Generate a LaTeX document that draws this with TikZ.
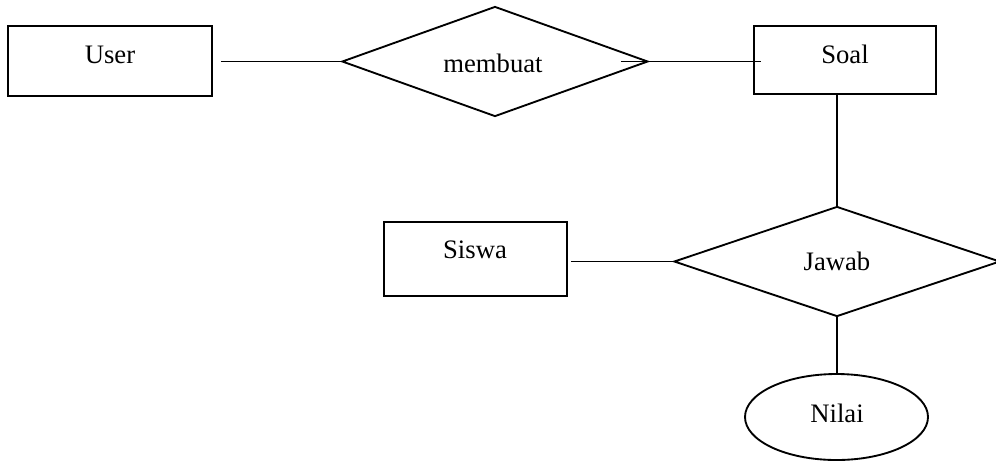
\documentclass[tikz,border=0pt]{standalone}
\usepackage{fontspec}
\setmainfont{Liberation Serif}
\usetikzlibrary{shapes.geometric}
\begin{document}
\begin{tikzpicture}[x=0.75pt,y=-0.75pt,
  every path/.style={line width=1.4pt},
  ent/.style={draw,rectangle,inner sep=0pt},
  rel/.style={draw,diamond,inner sep=0pt,minimum width=#1,minimum height=82.5pt},
  attr/.style={draw,ellipse,inner sep=0pt},
  lbl/.style={anchor=base,inner sep=0pt,font=\fontsize{20}{24}\selectfont}]
\useasboundingbox (0,0) rectangle (996,462);
\node[ent,minimum width=153pt,minimum height=52.5pt] (user) at (110,61) {};
\node[ent,minimum width=136.5pt,minimum height=51pt] (soal) at (845,60) {};
\node[ent,minimum width=137.25pt,minimum height=55.5pt] (siswa) at (475.5,259) {};
\node[rel=229.5pt] (membuat) at (495,61.5) {};
\node[rel=244.5pt] (jawab) at (837,261.5) {};
\node[attr,minimum width=137.25pt,minimum height=64.5pt] (nilai) at (836.5,417) {};
\node[lbl] (tuser) at (110,63) {User};
\node[lbl] (tsoal) at (845,63) {Soal};
\node[lbl] (tsiswa) at (475,258) {Siswa};
\node[lbl] (tmembuat) at (493,72) {membuat};
\node[lbl] (tjawab) at (837,270) {Jawab};
\node[lbl] (tnilai) at (837,422) {Nilai};
\draw ([xshift=6pt]user.east |- membuat.west) -- (membuat.west);
\draw ([xshift=-21pt]membuat.east) -- ([xshift=6pt]membuat.east -| soal.west);
\draw (jawab.north |- soal.south) -- (jawab.north);
\draw ([xshift=2.25pt]jawab.west -| siswa.east) -- (jawab.west);
\draw (jawab.south) -- (jawab.south |- nilai.north);
\end{tikzpicture}
\end{document}
